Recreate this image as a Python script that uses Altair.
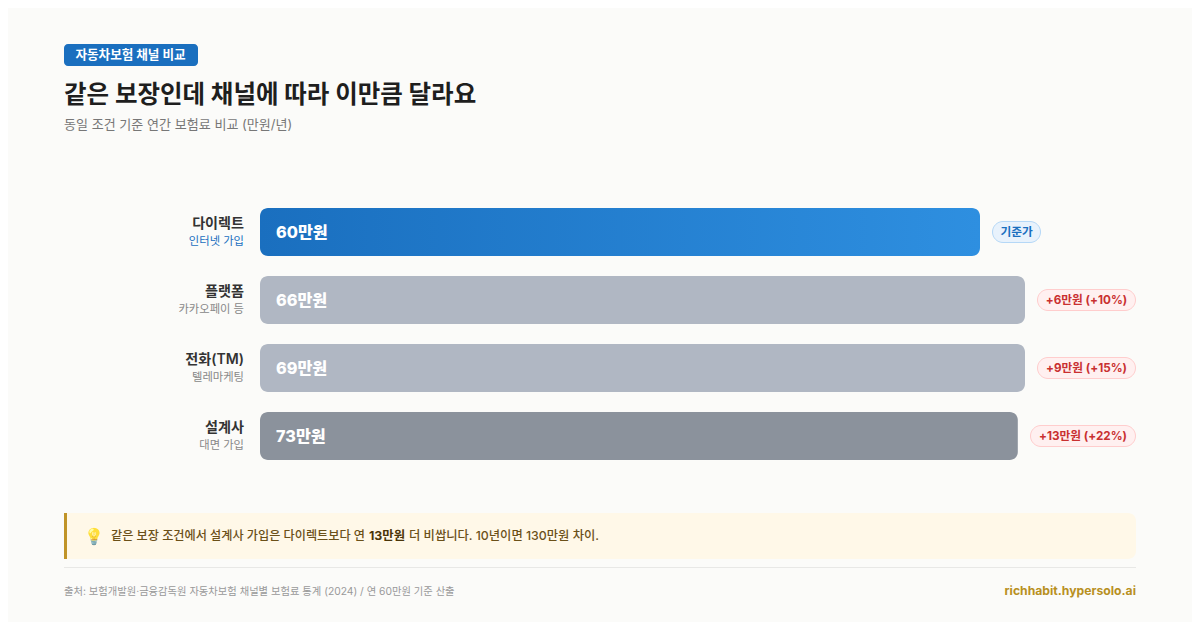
import altair as alt
import pandas as pd

# ---- data ----
channels = ["다이렉트", "플랫폼", "전화(TM)", "설계사"]
subtitles = ["인터넷 가입", "카카오페이 등", "텔레마케팅", "대면 가입"]
premiums = [60, 66, 69, 73]
bar_share = [80.0, 85.0, 85.0, 84.2]  # drawn length, % of the track
pill_texts = ["기준가", "+6만원 (+10%)", "+9만원 (+15%)", "+13만원 (+22%)"]

# ---- layout / style (page px) ----
BG = "#FBFBF9"
BLUE = "#1A6FBF"
FONT = "Inter, 'Noto Sans CJK KR', sans-serif"
OX, OY = 8, 8
TRACK_L, TRACK_W = 260, 900
ROW_TOP, ROW_BOTTOM = 208, 460
PILL_W = [49, 99, 99, 106]
PILL_GAP = 12
BAR_COLORS = [None, "#B0B7C3", "#B0B7C3", "#8B929C"]


def px(v):
    return alt.value(v - OX)


def py(v):
    return alt.value(v - OY)


def txt(s, x, y, size, color, weight=400, align="left", baseline="alphabetic", font=FONT, **kw):
    return alt.Chart(pd.DataFrame({"t": [s]})).mark_text(
        text=s, fontSize=size, color=color, fontWeight=weight, align=align,
        baseline=baseline, font=font, **kw,
    ).encode(x=px(x), y=py(y))


def box(x0, y0, x1, y1, **mark):
    return alt.Chart(pd.DataFrame({"t": [0]})).mark_rect(**mark).encode(
        x=px(x0), x2=px(x1), y=py(y0), y2=py(y1)
    )


df = pd.DataFrame({
    "channel": channels, "sub": subtitles, "premium": premiums, "share": bar_share,
    "zero": [0] * 4, "label": [f"{p}만원" for p in premiums],
})

x_scale = alt.Scale(domain=[0, 100], range=[TRACK_L - OX, TRACK_L - OX + TRACK_W])
y_scale = alt.Scale(domain=channels, range=[ROW_TOP - OY, ROW_BOTTOM - OY],
                    paddingInner=20 / 68, paddingOuter=0)
X = alt.X("zero:Q", scale=x_scale, axis=None)
X2 = alt.X2("share:Q")
Y = alt.Y("channel:N", scale=y_scale, axis=None)

layers = []

# header
layers.append(box(64, 44, 198, 66, fill=BLUE, cornerRadius=4))
layers.append(txt("자동차보험 채널 비교", 130.5, 59, 12.6, "#FFFFFF", 700, "center"))
layers.append(txt("같은 보장인데 채널에 따라 이만큼 달라요", 64, 103, 24.5, "#1E1E1E", 700))
layers.append(txt("동일 조건 기준 연간 보험료 비교 (만원/년)", 64, 129, 13.05, "#777777", 400))

# bars
blue_grad = alt.Gradient(
    gradient="linear", x1=0, x2=1, y1=0, y2=0,
    stops=[alt.GradientStop(color="#1A6FBF", offset=0), alt.GradientStop(color="#2E8FE0", offset=1)],
)
layers.append(alt.Chart(df.iloc[[0]]).mark_bar(color=blue_grad, cornerRadius=8).encode(x=X, x2=X2, y=Y))
layers.append(
    alt.Chart(df.iloc[1:]).mark_bar(cornerRadius=8).encode(
        x=X, x2=X2, y=Y,
        color=alt.Color("channel:N", scale=alt.Scale(domain=channels[1:], range=BAR_COLORS[1:]), legend=None),
    )
)
YC = alt.Y("channel:N", scale=y_scale, axis=None, bandPosition=0.5)
layers.append(
    alt.Chart(df).mark_text(align="left", baseline="middle", fontSize=16.2, fontWeight=800,
                            color="#FFFFFF", font=FONT, dx=16, dy=1).encode(
        x=alt.X("zero:Q", scale=x_scale, axis=None), y=YC, text="label:N")
)
layers.append(
    alt.Chart(df).mark_text(align="right", baseline="middle", fontSize=14.1, fontWeight=600,
                            color="#333333", font=FONT, dy=-8.5, dx=-16).encode(
        x=alt.X("zero:Q", scale=x_scale, axis=None), y=YC, text="channel:N")
)
layers.append(
    alt.Chart(df).mark_text(align="right", baseline="middle", fontSize=11.3, font=FONT, dy=9.5, dx=-16).encode(
        x=alt.X("zero:Q", scale=x_scale, axis=None), y=YC, text="sub:N",
        color=alt.Color("sub:N", scale=alt.Scale(domain=subtitles, range=[BLUE, "#888888", "#888888", "#888888"]), legend=None),
    )
)

# pills
for i, (t, share, w) in enumerate(zip(pill_texts, bar_share, PILL_W)):
    end = TRACK_L + TRACK_W * share / 100
    x0 = round(end + PILL_GAP)
    cy = ROW_TOP + 24 + 68 * i
    base = i == 0
    layers.append(box(x0 + .5, cy - 10.5, x0 + w - .5, cy + 10.5,
                      fill="#E8F2FC" if base else "#FFF0F0",
                      stroke="#B5D8F7" if base else "#FFCDCD",
                      strokeWidth=1, cornerRadius=10.5))
    layers.append(txt(t, x0 + w / 2, cy, 11.7, BLUE if base else "#C93030", 700, "center", "middle"))

# callout
layers.append(box(64, 513, 1136, 559, fill="#FFF8E8", cornerRadiusTopRight=8, cornerRadiusBottomRight=8))
layers.append(box(64, 513, 67, 559, fill="#C09428"))
layers.append(txt("💡", 84.5, 537, 16, "#000000", 400, "left", "middle",
                  font="'Noto Color Emoji', sans-serif", opacity=0.75))
INK = "#6B5018"
layers.append(txt("같은 보장 조건에서 설계사 가입은 다이렉트보다 연", 111, 540, 12.15, INK, 500))
layers.append(txt("13만원", 369, 540, 12.4, "#4A3408", 700))
layers.append(txt("더 비쌉니다. 10년이면 130만원 차이.", 409, 540, 12.3, INK, 500))

# footer
layers.append(box(64, 567, 1136, 568, fill="#E8E8E6"))
layers.append(txt("출처: 보험개발원·금융감독원 자동차보험 채널별 보험료 통계 (2024) / 연 60만원 기준 산출", 64, 595, 10.3, "#999999"))
layers.append(txt("richhabit.hypersolo.ai", 1136, 595, 12.2, "#B8901F", 700, "right"))

chart = alt.layer(*layers).resolve_scale(color="independent").properties(
    width=1184, height=614, background=BG, padding=0,
    autosize=alt.AutoSizeParams(type="none"),
).configure_view(stroke=None)

chart.save("out.html", embed_options={"renderer": "svg", "actions": False})
